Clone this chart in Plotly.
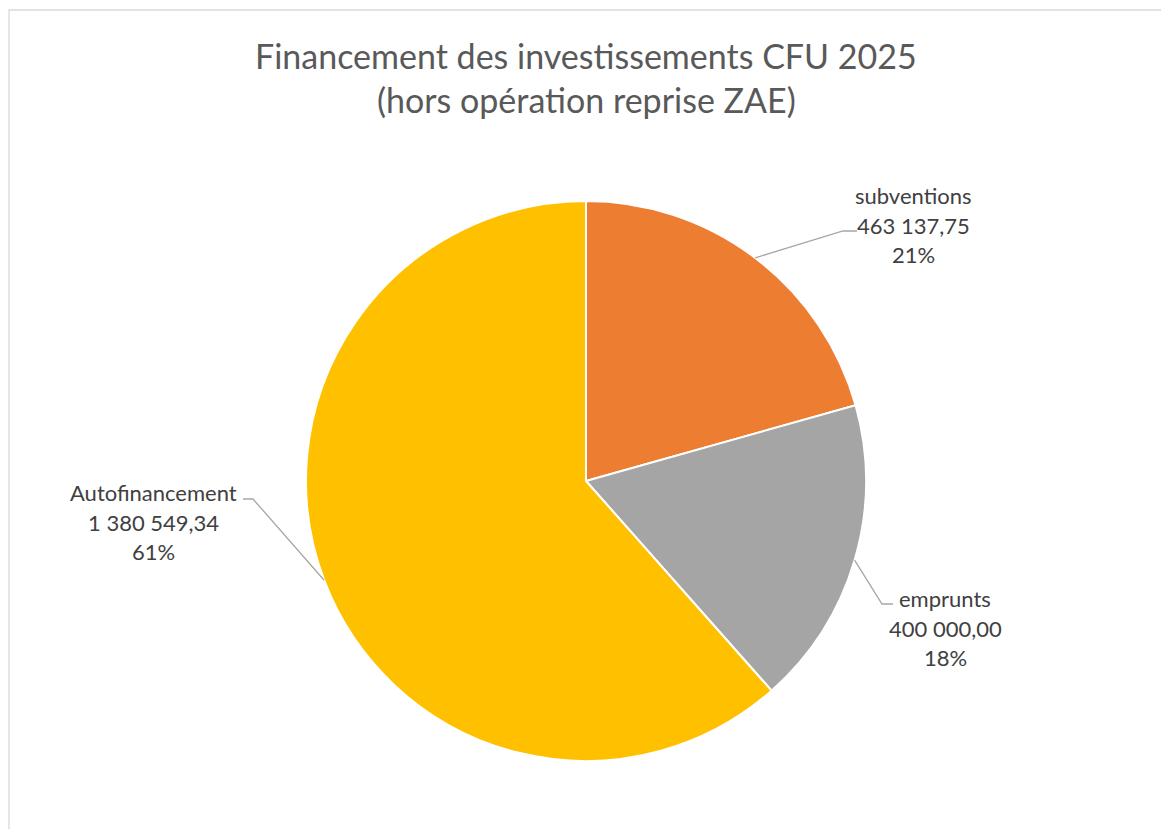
import math
import plotly.graph_objects as go

# ---- data ----
categories = ["subventions", "emprunts", "Autofinancement"]
values = [463137.75, 400000.00, 1380549.34]
value_labels = ["463 137,75", "400 000,00", "1 380 549,34"]
pct_labels = ["21%", "18%", "61%"]
colors = ["#ED7D31", "#A5A5A5", "#FFC000"]
title_lines = ["Financement des investissements CFU 2025", "(hors opération reprise ZAE)"]

# ---- layout constants (pixels) ----
W, H = 1161, 829
cx, cy, R = 586, 481, 280
FONT = "Lato"
LINE = 29.5
# label placement: (elbow x, elbow y, end x, text center x, text middle-line y)
label_pos = {
    "subventions": (843, 231, 857, 913, 225),
    "emprunts": (882, 604, 893, 945, 628),
    "Autofinancement": (253, 499, 243, 153, 522),
}

def px(x):
    return x / W

def py(y):
    return 1 - y / H

fig = go.Figure(go.Pie(
    labels=categories, values=values, sort=False, direction="clockwise", rotation=0,
    marker=dict(colors=colors, line=dict(color="white", width=2)),
    textinfo="none", showlegend=False,
    domain=dict(x=[px(cx - R), px(cx + R)], y=[py(cy + R), py(cy - R)]),
))

shapes = []
annotations = []
total = sum(values)
cum = 0.0
for cat, v, vl, pl in zip(categories, values, value_labels, pct_labels):
    mid = (cum + v / 2) / total * 2 * math.pi
    cum += v
    ex = cx + R * math.sin(mid)
    ey = cy - R * math.cos(mid)
    bx, by, endx, tx, ty = label_pos[cat]
    shapes.append(dict(
        type="path", xref="paper", yref="paper",
        path=f"M {px(ex)},{py(ey)} L {px(bx)},{py(by)} L {px(endx)},{py(by)}",
        line=dict(color="#A6A6A6", width=1.3),
    ))
    for i, t in enumerate([cat, vl, pl]):
        annotations.append(dict(
            text=t, x=px(tx), y=py(ty + (i - 1) * LINE), xref="paper", yref="paper",
            xanchor="center", yanchor="middle", showarrow=False,
            font=dict(family=FONT, size=22, color="#404040"),
        ))

for i, t in enumerate(title_lines):
    annotations.append(dict(
        text=t, x=px(586), y=py(55 + i * 45), xref="paper", yref="paper",
        xanchor="center", yanchor="middle", showarrow=False,
        font=dict(family=FONT, size=34, color="#595959"),
    ))

# chart border
shapes.append(dict(type="rect", xref="paper", yref="paper",
                   x0=px(9), y0=py(900), x1=px(1250), y1=py(10),
                   line=dict(color="#D9D9D9", width=1.3), fillcolor="rgba(0,0,0,0)", layer="below"))

fig.update_layout(
    width=W, height=H, margin=dict(l=0, r=0, t=0, b=0),
    paper_bgcolor="white", plot_bgcolor="white",
    shapes=shapes, annotations=annotations,
)

fig.write_html("out.html", config={"displayModeBar": False},
               post_script="document.body.style.margin='0';document.body.style.overflow='hidden';")
